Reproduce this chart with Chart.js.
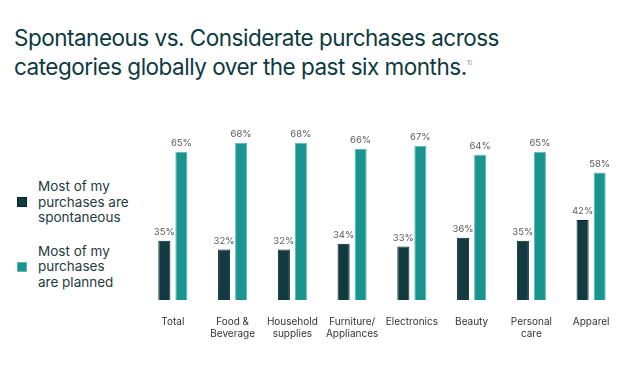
<!DOCTYPE html>
<html>
<head>
<meta charset="utf-8">
<script src="https://cdn.jsdelivr.net/npm/chart.js@4"></script>
<style>
  html, body { margin: 0; padding: 0; background: #fff; }
  body { width: 640px; height: 392px; position: relative; overflow: hidden; font-family: Inter, "Noto Sans", sans-serif; }
  #title { position: absolute; left: 14px; top: 25px; margin: 0; font-size: 22.5px; font-weight: 400; line-height: 25px; color: #0d3a40; letter-spacing: -0.5px; }
  #title sup { font-size: 6px; color: #999; vertical-align: 10px; }
  #legend { position: absolute; left: 17px; top: 179px; }
  .item { display: flex; align-items: center; margin-bottom: 18px; }
  .swatch { width: 10px; height: 10px; margin-right: 11px; box-sizing: border-box; }
  .text { font-size: 13.5px; line-height: 15.5px; color: #1f3b40; }
  #wrap { position: absolute; left: 0; top: 0; width: 640px; height: 392px; }
</style>
</head>
<body>
<h1 id="title">Spontaneous vs. Considerate purchases across<br>categories globally over the past six months.<sup>10</sup></h1>
<div id="legend"></div>
<div id="wrap"><canvas id="chart"></canvas></div>
<script>
// chart data
const categories  = [["Total"], ["Food &", "Beverage"], ["Household", "supplies"], ["Furniture/", "Appliances"], ["Electronics"], ["Beauty"], ["Personal", "care"], ["Apparel"]];
const spontaneous = [35, 32, 32, 34, 33, 36, 35, 42];
const planned     = [65, 68, 68, 66, 67, 64, 65, 58];
const seriesNames = [["Most of my", "purchases are", "spontaneous"], ["Most of my", "purchases", "are planned"]];
const colors      = ["#123b41", "#18958f"];
const borders     = ["#0a2226", "#5fb5b0"];

// legend on the left, built from the series names
const legend = document.getElementById("legend");
seriesNames.forEach((lines, i) => {
    const item = document.createElement("div");
    item.className = "item";
    item.innerHTML = `<div class="swatch" style="background:${colors[i]};border:1px solid ${borders[i]}"></div>` +
                     `<div class="text">${lines.join("<br>")}</div>`;
    legend.appendChild(item);
});

// value labels above each bar
const valueLabels = {
    id: "valueLabels",
    afterDatasetsDraw(chart) {
        const ctx = chart.ctx;
        ctx.save();
        ctx.font = "9.5px Inter, 'Noto Sans', sans-serif";
        ctx.fillStyle = "#5a5a5a";
        ctx.textAlign = "center";
        ctx.textBaseline = "bottom";
        chart.data.datasets.forEach((ds, di) => {
            chart.getDatasetMeta(di).data.forEach((bar, i) => {
                ctx.fillText(ds.data[i] + "%", bar.x, bar.y - 4);
            });
        });
        ctx.restore();
    }
};

new Chart(document.getElementById("chart"), {
    type: "bar",
    data: {
        labels: categories,
        datasets: [
            { label: seriesNames[0].join(" "), data: spontaneous, backgroundColor: colors[0], borderColor: borders[0], borderWidth: 1 },
            { label: seriesNames[1].join(" "), data: planned,     backgroundColor: colors[1], borderColor: borders[1], borderWidth: 1 },
        ]
    },
    options: {
        responsive:          true,
        maintainAspectRatio: false,
        animation:           false,
        layout: { padding: { left: 143, right: 19, top: 122, bottom: 44 } },
        datasets: { bar: { categoryPercentage: 0.57, barPercentage: 0.71 } },
        scales: {
            x: {
                grid:   { display: false },
                border: { display: false },
                ticks:  { color: "#333", font: { size: 10, family: "Inter, 'Noto Sans', sans-serif" }, padding: 8, maxRotation: 0 },
            },
            y: { display: false, min: 15, max: 75 }
        },
        plugins: {
            legend:  { display: false },
            tooltip: { enabled: false },
        }
    },
    plugins: [valueLabels]
});
</script>
</body>
</html>
